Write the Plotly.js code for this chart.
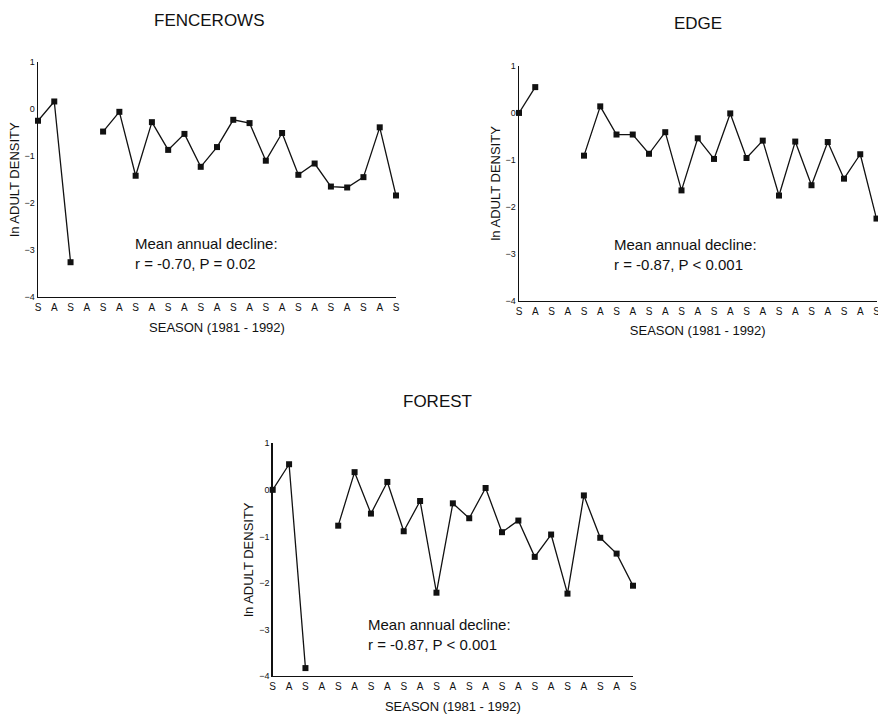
<!DOCTYPE html>
<html>
<head>
<meta charset="utf-8">
<script src="https://cdn.plot.ly/plotly-3.0.1.min.js"></script>
<style>
html,body{margin:0;padding:0;overflow:hidden;background:#fff;}
#chart{width:895px;height:715px;}
</style>
</head>
<body>
<div id="chart"></div>
<script>
// ---- data ----
var seasonIndex = [0,1,2,3,4,5,6,7,8,9,10,11,12,13,14,15,16,17,18,19,20,21,22];
var seasonLabels = ["S","A","S","A","S","A","S","A","S","A","S","A","S","A","S","A","S","A","S","A","S","A","S"];
var fencerows = [-0.25, 0.16, -3.26, null, -0.48, -0.06, -1.42, -0.28, -0.87, -0.53, -1.23, -0.81, -0.23, -0.30, -1.10, -0.51, -1.40, -1.16, -1.65, -1.67, -1.45, -0.39, -1.84];
var edge = [0.0, 0.55, null, null, -0.91, 0.14, -0.46, -0.46, -0.87, -0.41, -1.65, -0.54, -0.98, -0.01, -0.96, -0.59, -1.76, -0.61, -1.54, -0.62, -1.40, -0.88, -2.25];
var forest = [0.0, 0.55, -3.83, null, -0.77, 0.38, -0.51, 0.17, -0.89, -0.24, -2.21, -0.29, -0.61, 0.04, -0.91, -0.66, -1.44, -0.96, -2.23, -0.12, -1.03, -1.37, -2.06];
var yTicks = [-4,-3,-2,-1,0,1];
var panelTitles = ["FENCEROWS","EDGE","FOREST"];
var statsText = ["Mean annual decline:<br>r = -0.70, P = 0.02",
                 "Mean annual decline:<br>r = -0.87, P < 0.001",
                 "Mean annual decline:<br>r = -0.87, P < 0.001"];
var yTitle = "ln ADULT DENSITY";
var xTitle = "SEASON (1981 - 1992)";

// ---- layout geometry (pixels) ----
var W = 895, H = 715;
var boxes = [
  {x0:38, x1:396, y0:62, y1:297},
  {x0:519, x1:876.5, y0:66, y1:300.7},
  {x0:272.7, x1:633, y0:443.3, y1:676}
];
var titlePos = [{x:209,y:20},{x:698,y:24},{x:437,y:401}];
var statsPos = [{x:133,y:253},{x:612,y:254},{x:366,y:634}];

var series = [fencerows, edge, forest];
var font = "Liberation Sans, Arial, Helvetica, sans-serif";
var traces = [];
var layout = {
  width: W, height: H,
  margin: {l:0,r:0,t:0,b:0},
  paper_bgcolor: "#fff", plot_bgcolor: "#fff",
  showlegend: false,
  font: {family: font, color: "#111"},
  annotations: []
};

for (var i = 0; i < 3; i++) {
  var sfx = i === 0 ? "" : String(i+1);
  traces.push({
    x: seasonIndex, y: series[i],
    type: "scatter", mode: "lines+markers",
    xaxis: "x" + sfx, yaxis: "y" + sfx,
    connectgaps: false, cliponaxis: false,
    line: {color: "#111", width: 1.3},
    marker: {symbol: "square", size: 6, color: "#111"}
  });
  var b = boxes[i];
  layout["xaxis" + sfx] = {
    domain: [b.x0 / W, b.x1 / W],
    anchor: "y" + sfx,
    range: [0, 22],
    tickmode: "array", tickvals: seasonIndex, ticktext: seasonLabels,
    ticks: "", showgrid: false, zeroline: false,
    showline: true, linecolor: "#111", linewidth: 1.4,
    tickfont: {size: 10, family: font, color: "#111"},
    ticklabelstandoff: 1,
    title: {text: xTitle, font: {size: 13, family: font, color: "#111"}, standoff: 10}
  };
  layout["yaxis" + sfx] = {
    domain: [1 - b.y1 / H, 1 - b.y0 / H],
    anchor: "x" + sfx,
    range: [-4, 1],
    tickmode: "array", tickvals: yTicks,
    ticks: "", showgrid: false, zeroline: false,
    showline: true, linecolor: "#111", linewidth: 1.4,
    tickfont: {size: 9, family: font, color: "#111"},
    title: {text: yTitle, font: {size: 13, family: font, color: "#111"}, standoff: 2}
  };
  layout.annotations.push({
    text: panelTitles[i], xref: "paper", yref: "paper",
    x: titlePos[i].x / W, y: 1 - titlePos[i].y / H,
    xanchor: "center", yanchor: "middle", showarrow: false,
    font: {size: 17, family: font, color: "#111"}
  });
  layout.annotations.push({
    text: statsText[i], xref: "paper", yref: "paper",
    x: statsPos[i].x / W, y: 1 - statsPos[i].y / H,
    xanchor: "left", yanchor: "middle", align: "left", showarrow: false,
    font: {size: 15, family: font, color: "#111"}
  });
}

Plotly.newPlot("chart", traces, layout, {staticPlot: true});
</script>
</body>
</html>
